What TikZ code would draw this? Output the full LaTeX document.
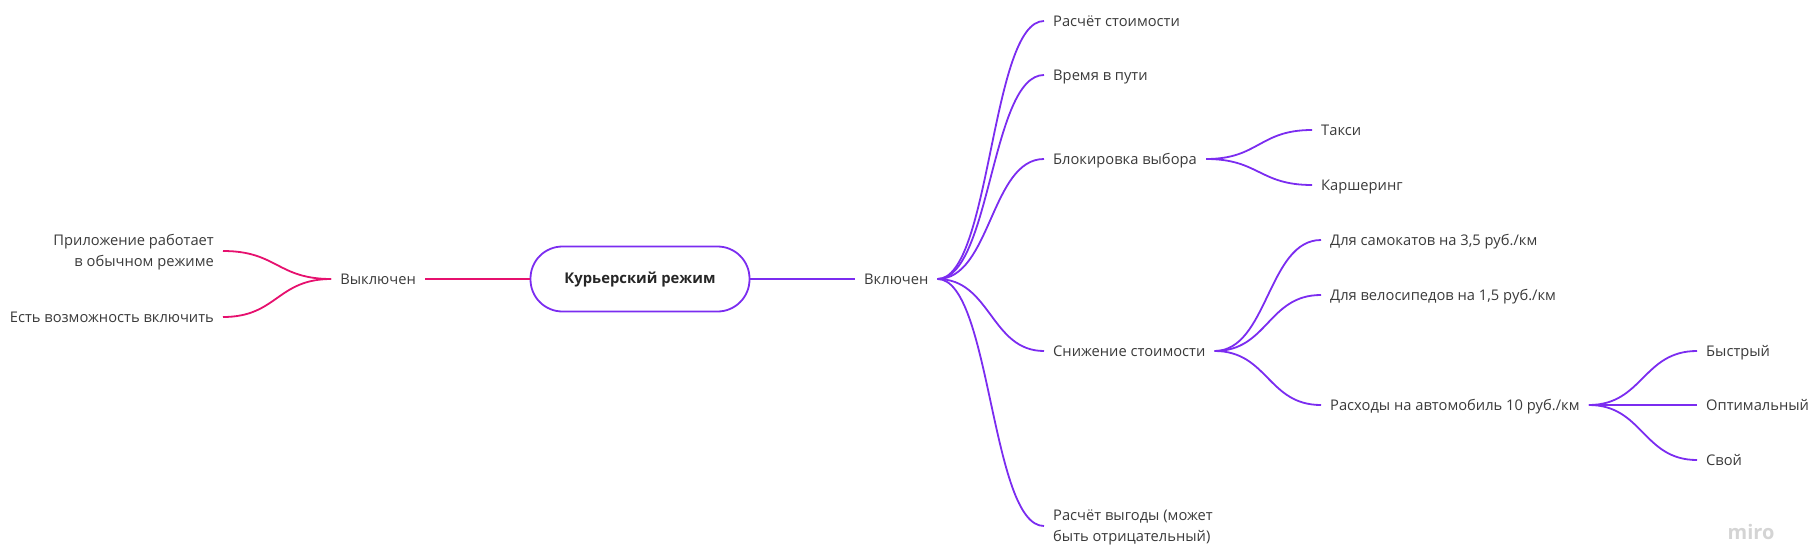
\documentclass[tikz,border=0pt]{standalone}
\usepackage{fontspec}
\setmainfont{Open Sans}
\usetikzlibrary{calc}

\definecolor{miroviolet}{HTML}{7B2CF0}
\definecolor{miropink}{HTML}{E6106E}
\definecolor{textgray}{HTML}{3A3A3A}

\tikzset{
  leafbase/.style={font=\fontsize{14.7}{21}\selectfont, text=textgray, inner xsep=9pt, inner ysep=2pt},
  leaf/.style={leafbase, text height=12.5pt, text depth=1.5pt},
  leafpair/.style={leafbase, text height=33pt, text depth=2.5pt},
  link/.style={line width=1.8pt},
  branch/.style={to path={let \p1=(\tikztostart), \p2=(\tikztotarget) in
      .. controls ({(\x1+\x2)/2},\y1) and ({(\x1+\x2)/2},\y2) .. (\tikztotarget)}},
}

\begin{document}
\begin{tikzpicture}[x=1pt, y=-1pt]
    % Page frame
    \useasboundingbox (0,0) rectangle (1820,549);

    % Central topic
    \node[draw=miroviolet, link, rounded corners=32pt, minimum width=219pt,
          minimum height=65pt, font=\fontsize{14.8}{17}\selectfont\bfseries, text=black!85]
          (root) at (640,279) {Курьерский режим};

    % Left side: switched off
    \node[leaf, anchor=east] (off) at (425,279) {Выключен};
    \node[leafpair, anchor=east, align=right] (normal) at (223,251) {Приложение работает\\в обычном режиме};
    \node[leaf, anchor=east] (canon) at (223,317) {Есть возможность включить};

    \draw[miropink, link] (off.east) -- (root.west);
    \draw[miropink, link] (off.west) to[branch] (normal.east);
    \draw[miropink, link] (off.west) to[branch] (canon.east);

    % Right side: switched on
    \node[leaf, anchor=west] (on) at (855,279) {Включен};
    \draw[miroviolet, link] (root.east) -- (on.west);

    \node[leaf, anchor=west] (price) at (1044,21) {Расчёт стоимости};
    \node[leaf, anchor=west] (time) at (1044,75) {Время в пути};
    \node[leaf, anchor=west] (block) at (1044,159) {Блокировка выбора};
    \node[leaf, anchor=west] (discount) at (1044,351) {Снижение стоимости};
    \node[leafpair, anchor=west, align=left] (profit) at (1044,526) {Расчёт выгоды (может\\быть отрицательный)};

    \foreach \leafname in {price, time, block, discount, profit}
        \draw[miroviolet, link] (on.east) to[branch] (\leafname.west);

    % Blocked choices
    \node[leaf, anchor=west] (taxi) at (1312,130) {Такси};
    \node[leaf, anchor=west] (carsh) at (1312,185) {Каршеринг};
    \draw[miroviolet, link] (block.east) to[branch] (taxi.west);
    \draw[miroviolet, link] (block.east) to[branch] (carsh.west);

    % Cost reductions
    \node[leaf, anchor=west] (scoot) at (1321,240) {Для самокатов на 3,5 руб./км};
    \node[leaf, anchor=west] (bike) at (1321,295) {Для велосипедов на 1,5 руб./км};
    \node[leaf, anchor=west] (car) at (1321,405) {Расходы на автомобиль 10 руб./км};
    \foreach \leafname in {scoot, bike, car}
        \draw[miroviolet, link] (discount.east) to[branch] (\leafname.west);

    % Route modes for the car
    \node[leaf, anchor=west] (fast) at (1697,351) {Быстрый};
    \node[leaf, anchor=west] (optimal) at (1697,405) {Оптимальный};
    \node[leaf, anchor=west] (own) at (1697,460) {Свой};
    \foreach \leafname in {fast, optimal, own}
        \draw[miroviolet, link] (car.east) to[branch] (\leafname.west);

    % Watermark
    \node[font=\fontsize{20}{24}\selectfont\bfseries, text=black!17] (mark) at (1751,532) {miro};
\end{tikzpicture}
\end{document}
